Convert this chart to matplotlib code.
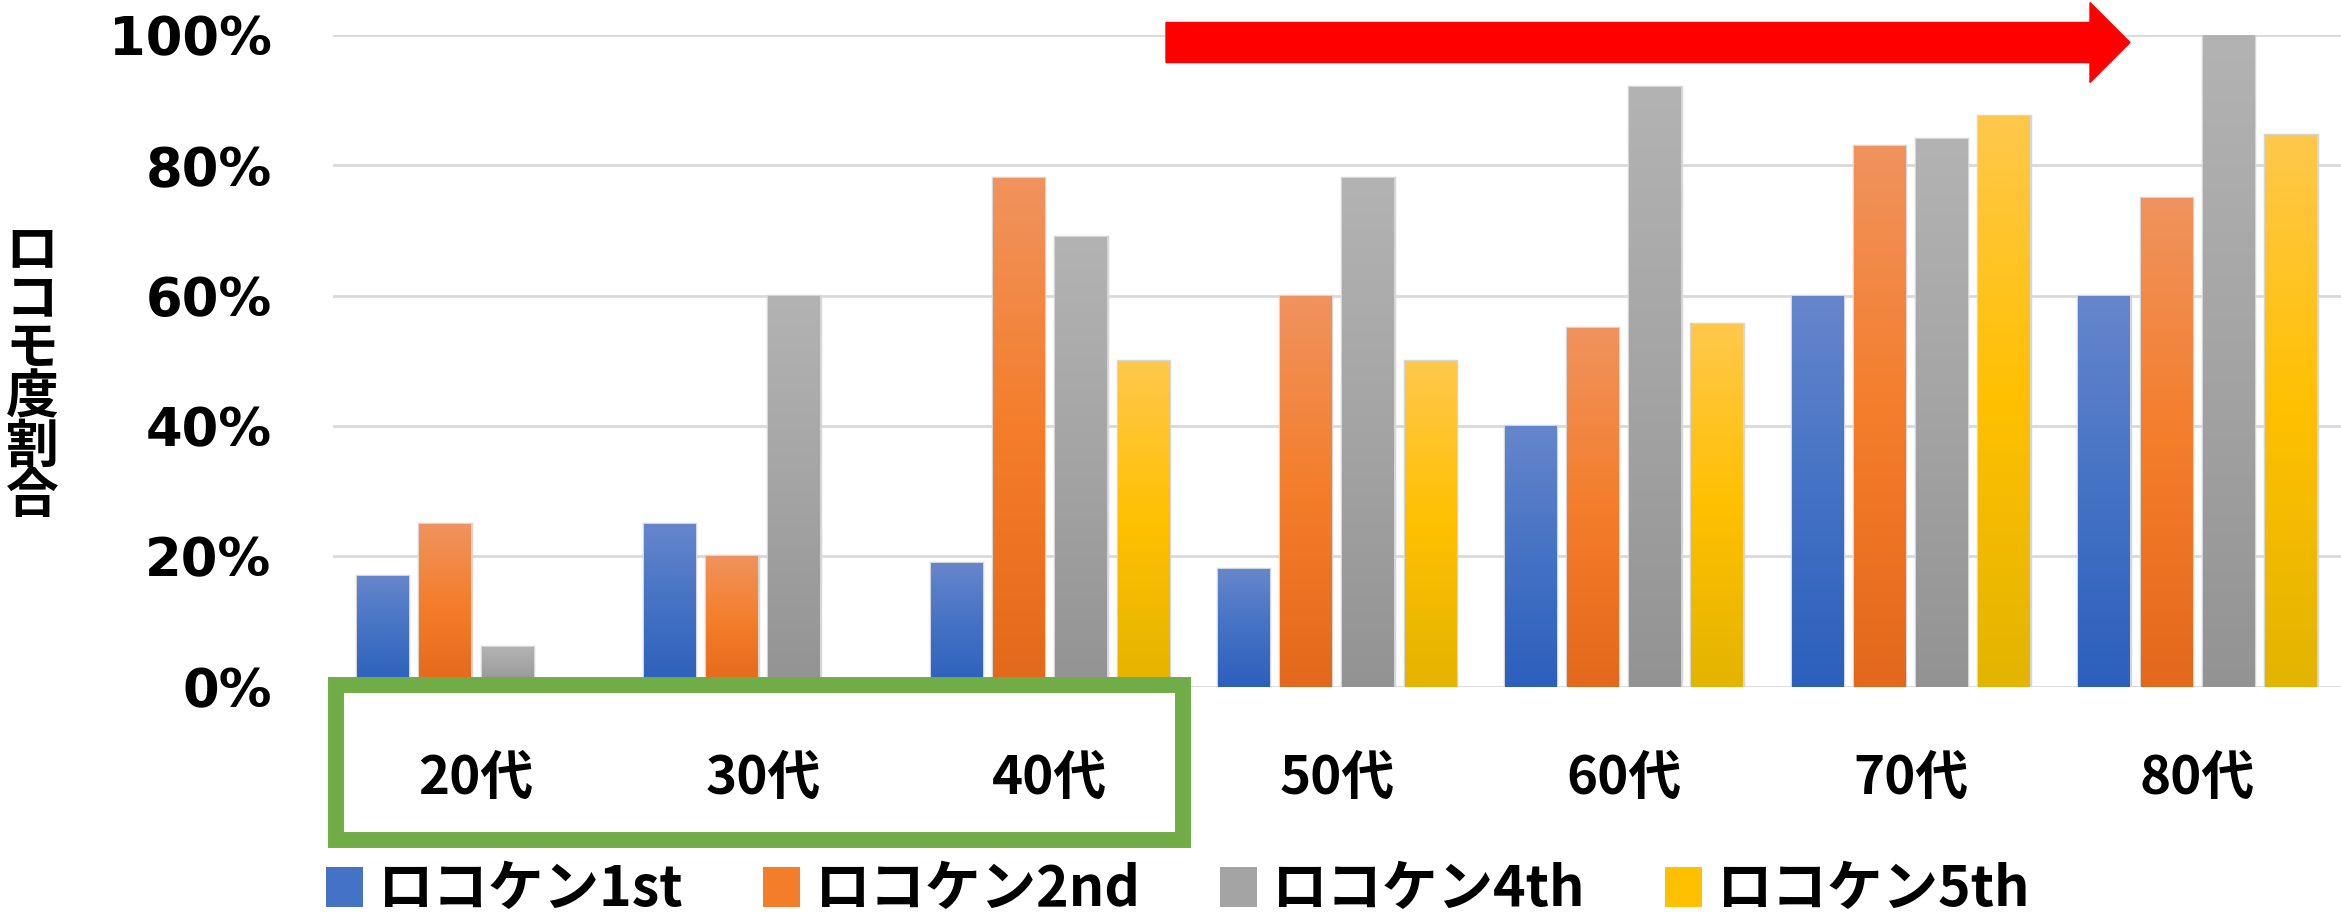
import numpy as np
import matplotlib
matplotlib.use('Agg')
import matplotlib.pyplot as plt
from matplotlib.colors import LinearSegmentedColormap
from matplotlib.patches import Rectangle, FancyArrow, Patch
from matplotlib.transforms import blended_transform_factory, IdentityTransform

plt.rcParams['font.family'] = ['DejaVu Sans', 'Noto Sans CJK JP']
jp = ['Noto Sans CJK JP', 'DejaVu Sans']

# data
ages = ['20代', '30代', '40代', '50代', '60代', '70代', '80代']
series = ['ロコケン1st', 'ロコケン2nd', 'ロコケン4th', 'ロコケン5th']
first = [17, 25, 19, 18, 40, 60, 60]
second = [25, 20, 78, 60, 55, 83, 75]
fourth = [6, 60, 69, 78, 92, 84, 100]
fifth = [0, 0, 50, 50, 55.6, 87.5, 84.6]
yticks = [0, 20, 40, 60, 80, 100]

# bottom -> middle -> top colours of each bar gradient
grads = [['#2c60bd', '#4472c4', '#6686cc'],
         ['#e2691b', '#f47d2a', '#f0935e'],
         ['#939393', '#a4a4a4', '#b3b3b3'],
         ['#e3b400', '#ffc000', '#ffc84c']]

fig = plt.figure(figsize=(23.41, 9.15), dpi=100)
ax = fig.add_axes([0.1421, 0.2497, 0.8579, 0.712])

x = np.arange(len(ages))
step = 0.217
width = 0.179
grad = np.linspace(0, 1, 256).reshape(-1, 1)
for i, vals in enumerate([first, second, fourth, fifth]):
    bars = ax.bar(x + (i - 1.5) * step, vals, width, color=grads[i][1],
                  edgecolor='#d6d6d6', linewidth=2.5, zorder=2)
    cmap = LinearSegmentedColormap.from_list('g%d' % i, grads[i])
    for b in bars:
        h = b.get_height()
        if h <= 0:
            b.set_visible(False)
            continue
        x0 = b.get_x()
        im = ax.imshow(grad, extent=[x0, x0 + b.get_width(), 0, h], origin='lower',
                       aspect='auto', cmap=cmap, zorder=3)
        im.set_clip_path(b)

ax.set_xlim(-0.5, len(ages) - 0.5)
ax.set_ylim(0, 100)
ax.set_yticks(yticks, ['%d%%' % v for v in yticks], fontsize=38, fontweight='bold')
ax.set_xticks(x, ages, fontsize=38, fontweight='bold', family=jp)
ax.tick_params(axis='y', length=0, pad=44)
ax.tick_params(axis='x', length=0, pad=47)
ax.yaxis.grid(True, color='#d9d9d9', linewidth=2)
ax.set_axisbelow(True)
for s in ax.spines.values():
    s.set_visible(False)

fig.text(0.0137, 0.592, '\n'.join('ロコモ度割合'), ha='center', va='center',
         fontsize=38, fontweight='bold', family=jp, linespacing=0.91)

# green box around 20-40代
tr = blended_transform_factory(ax.transData, fig.transFigure)
box = Rectangle((-0.488, 0.082), 2.952, 0.1694, transform=tr, fill=False,
                edgecolor='#70ad47', linewidth=11.5, clip_on=False, zorder=5)
fig.add_artist(box)

# red arrow
arr = FancyArrow(1166, 915 - 42.5, 2130 - 1166, 0, width=40, head_width=80,
                 head_length=40, length_includes_head=True, color='#ff0000',
                 transform=IdentityTransform())
fig.add_artist(arr)

handles = [Patch(facecolor=g[1]) for g in grads]
leg = fig.legend(handles, series, loc='center left', bbox_to_anchor=(0.1393, 0.027),
                 ncol=4, frameon=False, prop={'family': jp, 'size': 40, 'weight': 'bold'},
                 handlelength=0.67, handleheight=0.75, handletextpad=0.25,
                 columnspacing=1.44, borderpad=0, borderaxespad=0)

fig.savefig('out.png', dpi=100)
